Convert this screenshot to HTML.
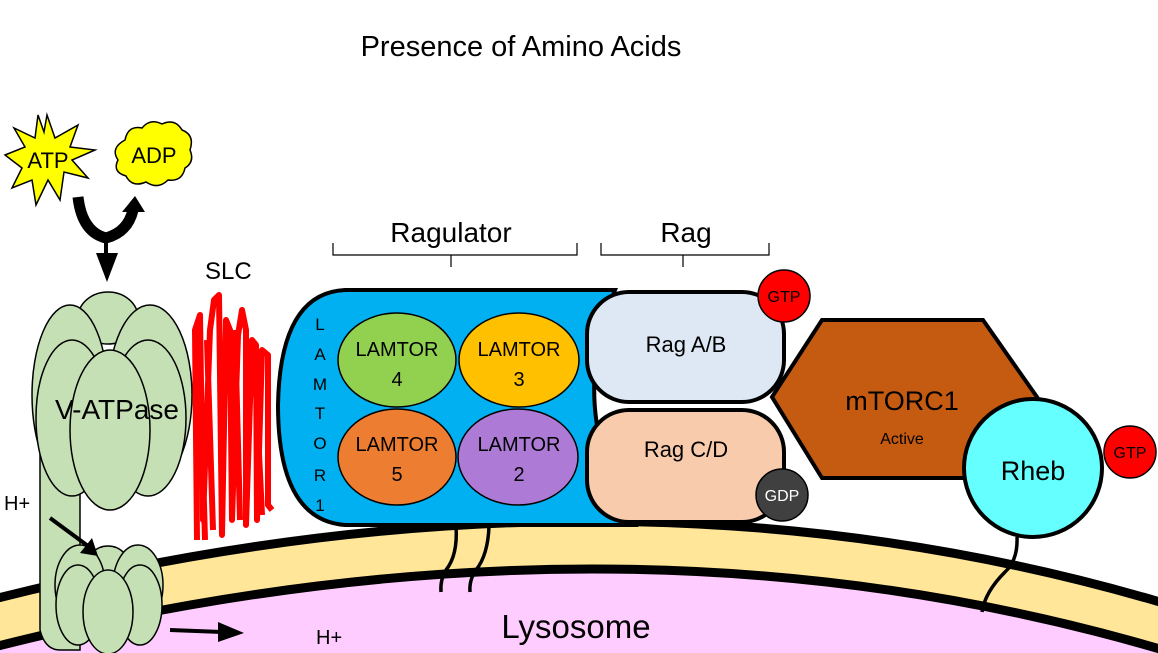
<!DOCTYPE html>
<html><head><meta charset="utf-8"><style>
html,body{margin:0;padding:0;background:#fff;overflow:hidden;width:1158px;height:653px;}
svg{display:block;font-family:"Liberation Sans",sans-serif;}
</style></head><body>
<svg width="1158" height="653" viewBox="0 0 1158 653">
<rect width="1158" height="653" fill="#fff"/>
<g>
<path d="M-10 600 Q620 440 1170 605 L1170 700 L-10 700 Z" fill="#ffe699" stroke="#000" stroke-width="9"/>
<path d="M-10 648 Q620 488 1170 652 L1170 700 L-10 700 Z" fill="#ffccff" stroke="#000" stroke-width="9"/>
</g>
<text x="576" y="638" font-size="33" text-anchor="middle">Lysosome</text>
<text x="316" y="644" font-size="20">H+</text>
<text x="521" y="56" font-size="29" text-anchor="middle">Presence of Amino Acids</text>

<polygon fill="#ffff00" stroke="#000" stroke-width="1.5" points="47,115 55,138 78,125 70,147 95,150 72,160 88,178 64,172 60,200 48,180 36,205 32,180 12,188 22,168 5,155 25,147 14,128 35,138 38,115 44,132"/>
<text x="48" y="168" font-size="22" text-anchor="middle">ATP</text>
<path fill="#ffff00" stroke="#000" stroke-width="1.5" d="M125 140 Q128 125 142 128 Q150 118 162 124 Q175 118 182 130 Q195 135 190 150 Q195 162 185 168 Q182 182 168 180 Q158 190 146 182 Q132 188 126 176 Q112 172 118 160 Q110 148 125 140 Z"/>
<text x="154" y="163" font-size="22" text-anchor="middle">ADP</text>
<g>
<path d="M78 197 Q82 232 106 238 Q128 232 133 210" fill="none" stroke="#000" stroke-width="11"/>
<polygon points="122,212 145,212 135,196" fill="#000"/>
<line x1="106" y1="238" x2="106" y2="262" stroke="#000" stroke-width="4"/>
<polygon points="96,253 118,253 107,282" fill="#000"/>
</g>

<g fill="#c5e0b4" stroke="#000" stroke-width="1.5">
<path d="M40 455 L40 630 Q45 650 60 650 L80 650 L80 455 Z"/>
<ellipse cx="108" cy="318" rx="30" ry="26"/>
<ellipse cx="70" cy="395" rx="38" ry="90"/>
<ellipse cx="150" cy="395" rx="42" ry="90"/>
<ellipse cx="72" cy="418" rx="36" ry="78"/>
<ellipse cx="148" cy="418" rx="38" ry="78"/>
<ellipse cx="110" cy="430" rx="40" ry="80"/>
<ellipse cx="108" cy="568" rx="22" ry="22"/>
<ellipse cx="80" cy="585" rx="25" ry="40"/>
<ellipse cx="138" cy="585" rx="25" ry="40"/>
<ellipse cx="78" cy="605" rx="22" ry="40"/>
<ellipse cx="140" cy="605" rx="22" ry="40"/>
<ellipse cx="108" cy="612" rx="25" ry="42"/>
</g>
<text x="117" y="419" font-size="28" text-anchor="middle">V-ATPase</text>
<text x="4" y="510" font-size="20">H+</text>
<g>
<line x1="50" y1="518" x2="88" y2="546" stroke="#000" stroke-width="4"/>
<polygon points="80,553 98,556 92,538" fill="#000"/>
<line x1="170" y1="630" x2="222" y2="632" stroke="#000" stroke-width="4"/>
<polygon points="218,622 244,633 218,642" fill="#000"/>
</g>

<text x="205" y="279" font-size="24">SLC</text>
<path fill="none" stroke="#ff0000" stroke-width="6" stroke-linejoin="round" d="M197 540 L195 330 L200 315 L203 520 L210 330 L214 300 L219 295 L222 535 L226 320 L230 330 L232 520 L238 335 L242 310 L246 330 L246 525 L252 340 L256 345 L257 520 L262 350 L268 355 L268 505 L272 510 M199 325 L205 540 M207 340 L213 530 M235 330 L240 520 M254 350 L262 515"/>

<g fill="none" stroke="#000" stroke-width="1.2">
<path d="M333 243 V255 H577 V243 M451 255 V267"/>
<path d="M601 243 V255 H769 V243 M683 255 V267"/>
</g>
<text x="451" y="242" font-size="28" text-anchor="middle">Ragulator</text>
<text x="686" y="242" font-size="28" text-anchor="middle">Rag</text>

<g fill="none" stroke="#000" stroke-width="3.5">
<path d="M456 526 Q458 555 446 570 Q440 580 441 592"/>
<path d="M489 526 Q488 555 476 570 Q469 580 470 592"/>
</g>
<path fill="#00b0f0" stroke="#000" stroke-width="4" d="M345 290 H615 Q565 410 635 525 H345 Q278 520 278 405 Q280 293 345 290 Z"/>
<g font-size="17" text-anchor="middle">
<text x="320" y="330">L</text><text x="320" y="360">A</text><text x="320" y="390">M</text><text x="320" y="419">T</text><text x="320" y="449">O</text><text x="320" y="481">R</text><text x="320" y="511">1</text>
</g>
<g stroke="#000" stroke-width="1.5">
<ellipse cx="397" cy="360" rx="59" ry="47" fill="#92d050"/>
<ellipse cx="519" cy="360" rx="60" ry="47" fill="#ffc000"/>
<ellipse cx="397" cy="457" rx="59" ry="48" fill="#ed7d31"/>
<ellipse cx="518" cy="457" rx="60" ry="48" fill="#ad7bd5"/>
</g>
<g font-size="20" text-anchor="middle">
<text x="397" y="356">LAMTOR</text><text x="397" y="386">4</text>
<text x="519" y="356">LAMTOR</text><text x="519" y="386">3</text>
<text x="397" y="451">LAMTOR</text><text x="397" y="481">5</text>
<text x="519" y="451">LAMTOR</text><text x="519" y="481">2</text>
</g>
<rect x="587" y="292" width="197" height="110" rx="42" fill="#dee8f5" stroke="#000" stroke-width="4"/>
<rect x="587" y="410" width="197" height="112" rx="42" fill="#f8cbad" stroke="#000" stroke-width="4"/>
<text x="686" y="352" font-size="22" text-anchor="middle">Rag A/B</text>
<text x="686" y="457" font-size="22" text-anchor="middle">Rag C/D</text>

<polygon fill="#c55a11" stroke="#000" stroke-width="4" points="772,397 822,320 983,320 1037,397 983,478 822,478"/>
<text x="902" y="410" font-size="27" text-anchor="middle">mTORC1</text>
<text x="902" y="444" font-size="16" text-anchor="middle">Active</text>

<circle cx="784" cy="296" r="26" fill="#ff0000" stroke="#000" stroke-width="1.5"/>
<text x="784" y="302" font-size="16" text-anchor="middle">GTP</text>
<circle cx="782" cy="495" r="26" fill="#404040" stroke="#000" stroke-width="1.5"/>
<text x="782" y="501" font-size="16" fill="#fff" text-anchor="middle">GDP</text>

<path d="M1017 537 Q1018 560 1005 572 Q985 592 982 612" fill="none" stroke="#000" stroke-width="3.5"/>
<circle cx="1033" cy="468" r="69" fill="#66ffff" stroke="#000" stroke-width="4"/>
<text x="1033" y="480" font-size="27" text-anchor="middle">Rheb</text>
<circle cx="1130" cy="452" r="26" fill="#ff0000" stroke="#000" stroke-width="1.5"/>
<text x="1130" y="458" font-size="16" text-anchor="middle">GTP</text>
</svg>
</body></html>
